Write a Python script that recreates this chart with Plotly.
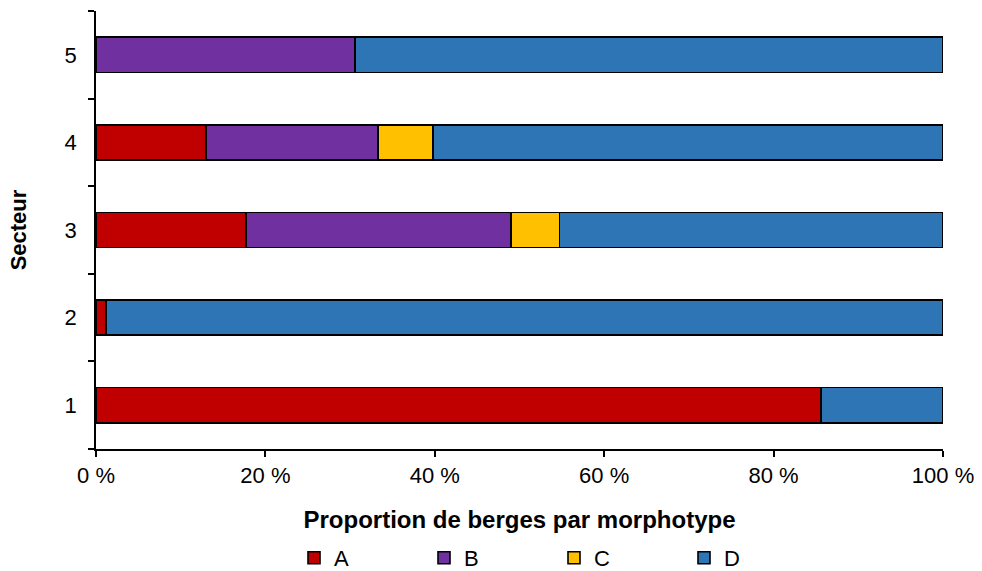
import plotly.graph_objects as go

secteurs = [1, 2, 3, 4, 5]
morphotypes = ["A", "B", "C", "D"]
val_A = [85.6, 1.2, 17.7, 13.0, 0.0]
val_B = [0.0, 0.0, 31.3, 20.3, 30.6]
val_C = [0.0, 0.0, 5.7, 6.5, 0.0]
val_D = [14.4, 98.8, 45.3, 60.2, 69.4]
colors = ["#C00000", "#7030A0", "#FFC000", "#2E75B6"]
x_ticks = [0, 20, 40, 60, 80, 100]
x_tick_labels = ["0 %", "20 %", "40 %", "60 %", "80 %", "100 %"]

font_family = "Liberation Sans, Arial, sans-serif"
fig = go.Figure()
for name, vals, col in zip(morphotypes, [val_A, val_B, val_C, val_D], colors):
    fig.add_trace(go.Bar(
        y=secteurs, x=vals, name=name, orientation="h",
        marker=dict(color=col, line=dict(color="#000000", width=1.6)),
    ))

fig.update_layout(
    barmode="stack",
    bargap=0.6,
    width=982, height=571,
    margin=dict(l=96, r=39, t=11, b=122),
    plot_bgcolor="white", paper_bgcolor="white",
    font=dict(family=font_family, size=22, color="#000000"),
    xaxis=dict(
        range=[0, 100], tickvals=x_ticks, ticktext=x_tick_labels,
        showline=True, linecolor="#000000", linewidth=1.5,
        ticks="outside", ticklen=6, tickcolor="#000000", tickwidth=1.5,
        showgrid=False, zeroline=False, automargin=False,
        tickfont=dict(size=22),
        title=dict(text="<b>Proportion de berges par morphotype</b>", font=dict(size=24), standoff=24),
    ),
    yaxis=dict(
        range=[0.5, 5.5], tickvals=secteurs, ticktext=[str(s) for s in secteurs],
        showline=True, linecolor="#000000", linewidth=1.5,
        ticks="", showgrid=False, zeroline=False, ticklabelstandoff=13,
        automargin=False, tickfont=dict(size=22),
        minor=dict(tickvals=[0.5, 1.5, 2.5, 3.5, 4.5, 5.5], ticks="outside", ticklen=6,
                   tickcolor="#000000", tickwidth=1.5, showgrid=False),
        title=dict(text="<b>Secteur</b>", font=dict(size=22), standoff=32),
    ),
    legend=dict(
        orientation="h", x=(294 - 96) / 847, xanchor="left",
        yref="container", y=13 / 571, yanchor="middle",
        traceorder="normal", entrywidth=85, font=dict(size=22),
        itemclick=False,
    ),
    showlegend=True,
)

fig.write_html("out.html", config={"displayModeBar": False},
               post_script="document.body.style.margin='0';")
